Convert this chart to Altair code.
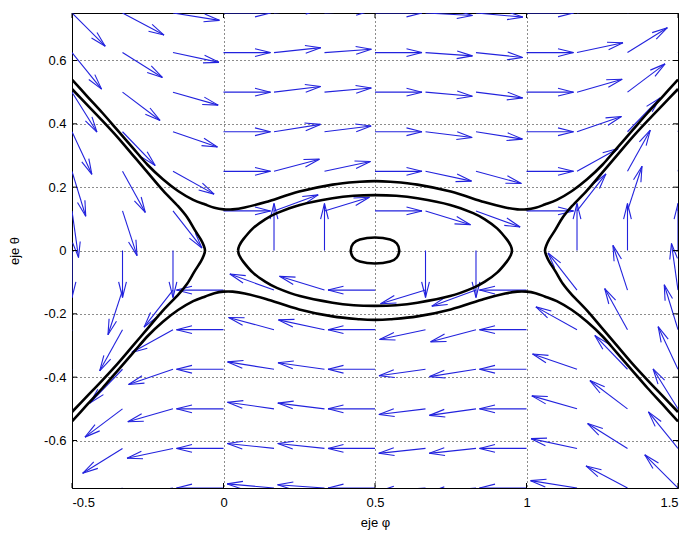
import math
import altair as alt
import pandas as pd

# ---------------- data ----------------
# quiver grid (tails)
x_grid = [-0.5, -0.3333, -0.1667, 0.0, 0.1667, 0.3333, 0.5, 0.6667, 0.8333, 1.0, 1.1667, 1.3333, 1.5]
y_grid = [0.75, 0.625, 0.5, 0.375, 0.25, 0.125, 0.0, -0.125, -0.25, -0.375, -0.5, -0.625, -0.75]
# arrow directions in degrees (counter-clockwise from +x); None = no arrow
angle_rows = [
    [-45, -28, -9, 0, 5, 3, 0, -3, -5, 0, 9, 28, 45],
    [-51, -32, -12, 0, 6, 4, 0, -4, -6, 0, 12, 32, 51],
    [-58, -37, -16, 0, 7, 5, 0, -5, -7, 0, 16, 37, 58],
    [-65, -46, -19, 0, 9, 7, 0, -7, -9, 0, 19, 46, 65],
    [-73, -61, -29, 0, 15, 12, 0, -12, -15, 0, 29, 61, 73],
    [-82, -72, -52, 0, 20, 17, 0, -17, -20, 0, 52, 72, 82],
    [-90, -90, -90, None, 90, 90, None, -90, -90, None, 90, 90, 90],
    [-98, -108, -128, 180, 160, 163, 180, -163, -160, 180, 128, 108, 98],
    [-107, -119, -151, 180, 165, 168, 180, -168, -165, 180, 151, 119, 107],
    [-115, -134, -161, 180, 171, 172, 180, -172, -171, 180, 161, 134, 115],
    [-122, -143, -164, 180, 172, 173, 180, -173, -172, 180, 164, 143, 122],
    [-129, -148, -168, 180, 174, 174, 180, -174, -174, 180, 168, 148, 129],
    [-135, -152, -171, 180, 175, 176, 180, -176, -175, 180, 171, 152, 135],
]

# level curves
outer_up_x = [-0.5, -0.45, -0.4, -0.35, -0.3, -0.25, -0.2, -0.15, -0.1, -0.06, -0.03, 0.0, 0.03, 0.07,
              0.14, 0.25, 0.36, 0.45, 0.5, 0.55, 0.64, 0.75, 0.86, 0.93, 0.97, 1.0, 1.03, 1.06, 1.1,
              1.15, 1.2, 1.25, 1.3, 1.35, 1.4, 1.45, 1.5]
outer_up_y = [0.54, 0.487, 0.435, 0.38, 0.325, 0.27, 0.225, 0.188, 0.16, 0.145, 0.135, 0.13, 0.13, 0.136,
              0.153, 0.186, 0.208, 0.217, 0.219, 0.217, 0.208, 0.186, 0.153, 0.136, 0.13, 0.13, 0.135,
              0.145, 0.16, 0.188, 0.225, 0.27, 0.325, 0.38, 0.435, 0.487, 0.54]
outer_dn_x = outer_up_x
outer_dn_y = [-0.54, -0.487, -0.435, -0.38, -0.325, -0.27, -0.225, -0.188, -0.16, -0.145, -0.135, -0.13,
              -0.13, -0.136, -0.153, -0.186, -0.208, -0.217, -0.219, -0.217, -0.208, -0.186, -0.153,
              -0.136, -0.13, -0.13, -0.135, -0.145, -0.16, -0.188, -0.225, -0.27, -0.325, -0.38,
              -0.435, -0.487, -0.54]
nose_l_x = [-0.5, -0.45, -0.4, -0.35, -0.3, -0.25, -0.2, -0.15, -0.12, -0.095, -0.075, -0.065, -0.061,
            -0.065, -0.075, -0.095, -0.12, -0.15, -0.2, -0.25, -0.3, -0.35, -0.4, -0.45, -0.5]
nose_l_y = [0.51, 0.46, 0.41, 0.358, 0.302, 0.246, 0.19, 0.14, 0.105, 0.065, 0.035, 0.015, 0.0,
            -0.015, -0.035, -0.065, -0.105, -0.14, -0.19, -0.246, -0.302, -0.358, -0.41, -0.46, -0.51]
nose_r_x = [1.5, 1.45, 1.4, 1.35, 1.3, 1.25, 1.2, 1.15, 1.12, 1.095, 1.075, 1.065, 1.061,
            1.065, 1.075, 1.095, 1.12, 1.15, 1.2, 1.25, 1.3, 1.35, 1.4, 1.45, 1.5]
nose_r_y = nose_l_y
eye_x = [0.048, 0.052, 0.065, 0.097, 0.135, 0.176, 0.252, 0.36, 0.43, 0.5, 0.57, 0.64, 0.748, 0.824,
         0.865, 0.903, 0.935, 0.948, 0.952, 0.948, 0.935, 0.903, 0.865, 0.824, 0.748, 0.64, 0.57,
         0.5, 0.43, 0.36, 0.252, 0.176, 0.135, 0.097, 0.065, 0.052, 0.048]
eye_y = [0.0, 0.015, 0.035, 0.07, 0.097, 0.118, 0.144, 0.165, 0.173, 0.175, 0.173, 0.165, 0.144, 0.118,
         0.097, 0.07, 0.035, 0.015, 0.0, -0.015, -0.035, -0.07, -0.097, -0.118, -0.144, -0.165, -0.173,
         -0.175, -0.173, -0.165, -0.144, -0.118, -0.097, -0.07, -0.035, -0.015, 0.0]
ell_x = [0.42, 0.428, 0.45, 0.5, 0.55, 0.572, 0.58, 0.572, 0.55, 0.5, 0.45, 0.428]
ell_y = [0.0, 0.022, 0.035, 0.041, 0.035, 0.022, 0.0, -0.022, -0.035, -0.041, -0.035, -0.022]

x_ticks = [-0.5, 0, 0.5, 1, 1.5]
y_ticks = [-0.6, -0.4, -0.2, 0, 0.2, 0.4, 0.6]

# ---------------- layout / style ----------------
W, H = 606, 475
PX = W / 2.0
PY = H / 1.5
L = 47.0          # arrow length in px
ALPHA, BETA = 0.33, 0.25
BLUE = "#2222dd"
FONT = "Liberation Sans"

segs = []
for r, yv in enumerate(y_grid):
    for c, xv in enumerate(x_grid):
        a = angle_rows[r][c]
        if a is None:
            continue
        t = math.radians(a)
        ux, uy = L * math.cos(t), L * math.sin(t)
        tx, ty = xv + ux / PX, yv + uy / PY
        segs.append({"x": xv, "y": yv, "x2": tx, "y2": ty})
        b1x = -ALPHA * (ux + BETA * uy)
        b1y = -ALPHA * (uy - BETA * ux)
        b2x = -ALPHA * (ux - BETA * uy)
        b2y = -ALPHA * (uy + BETA * ux)
        segs.append({"x": tx, "y": ty, "x2": tx + b1x / PX, "y2": ty + b1y / PY})
        segs.append({"x": tx, "y": ty, "x2": tx + b2x / PX, "y2": ty + b2y / PY})
quiver_df = pd.DataFrame(segs)

rows = []
for name, xs_, ys_ in [("outer_up", outer_up_x, outer_up_y), ("outer_dn", outer_dn_x, outer_dn_y),
                       ("nose_l", nose_l_x, nose_l_y), ("nose_r", nose_r_x, nose_r_y),
                       ("eye", eye_x, eye_y)]:
    for k, (a, b) in enumerate(zip(xs_, ys_)):
        rows.append({"x": a, "y": b, "curve": name, "k": k})
curve_df = pd.DataFrame(rows)
ell_df = pd.DataFrame({"x": ell_x, "y": ell_y, "k": list(range(len(ell_x)))})

xs = alt.Scale(domain=[-0.5, 1.5], nice=False, zero=False)
ys = alt.Scale(domain=[-0.75, 0.75], nice=False, zero=False)

xaxis = alt.Axis(values=x_ticks, labelExpr="'' + datum.value", title="eje φ", grid=True,
                 gridDash=[1, 3], gridColor="#000000", gridOpacity=0.9, ticks=False,
                 labelPadding=8, domainColor="#000000", labelColor="#000000",
                 labelFont=FONT, labelFontSize=13, titleFont=FONT, titleFontSize=13,
                 titleFontWeight="normal", titleColor="#000000", titleX=W / 2, titleY=34,
                 titleBaseline="middle", titleAlign="center")
yaxis = alt.Axis(values=y_ticks, labelExpr="'' + datum.value", title="eje θ", grid=True,
                 gridDash=[1, 3], gridColor="#000000", gridOpacity=0.9, ticks=False,
                 labelPadding=6, domainColor="#000000", labelColor="#000000",
                 labelFont=FONT, labelFontSize=13, titleFont=FONT, titleFontSize=13,
                 titleFontWeight="normal", titleColor="#000000", titleX=-58, titleY=H / 2,
                 titleAngle=270, titleBaseline="middle", titleAlign="center")

quiver = alt.Chart(quiver_df).mark_rule(color=BLUE, strokeWidth=1.1, clip=True).encode(
    x=alt.X("x:Q", scale=xs, axis=xaxis), y=alt.Y("y:Q", scale=ys, axis=yaxis),
    x2="x2:Q", y2="y2:Q")

curves = alt.Chart(curve_df).mark_line(color="black", strokeWidth=2.6, clip=True,
                                       interpolate="cardinal", strokeJoin="round").encode(
    x=alt.X("x:Q", scale=xs, axis=xaxis), y=alt.Y("y:Q", scale=ys, axis=yaxis),
    detail="curve:N", order="k:Q")

ellipse = alt.Chart(ell_df).mark_line(color="black", strokeWidth=2.6, clip=True,
                                      interpolate="cardinal-closed").encode(
    x=alt.X("x:Q", scale=xs, axis=xaxis), y=alt.Y("y:Q", scale=ys, axis=yaxis), order="k:Q")

xt_df = pd.DataFrame({"v": x_ticks})
yt_df = pd.DataFrame({"v": y_ticks})
tb = alt.Chart(xt_df).mark_rule(color="black").encode(
    x=alt.X("v:Q", scale=xs, axis=xaxis), y=alt.value(H), y2=alt.value(H - 5))
tt = alt.Chart(xt_df).mark_rule(color="black").encode(
    x=alt.X("v:Q", scale=xs, axis=xaxis), y=alt.value(0), y2=alt.value(5))
tl = alt.Chart(yt_df).mark_rule(color="black").encode(
    y=alt.Y("v:Q", scale=ys, axis=yaxis), x=alt.value(0), x2=alt.value(5))
tr = alt.Chart(yt_df).mark_rule(color="black").encode(
    y=alt.Y("v:Q", scale=ys, axis=yaxis), x=alt.value(W), x2=alt.value(W - 5))

chart = alt.layer(quiver, curves, ellipse, tb, tt, tl, tr).properties(
    width=W, height=H, autosize="none",
    padding={"left": 64, "top": 5, "right": 6, "bottom": 44},
    background="white",
).configure_view(stroke="black", strokeWidth=1)

chart.save("out.html", embed_options={"renderer": "svg", "actions": False})
